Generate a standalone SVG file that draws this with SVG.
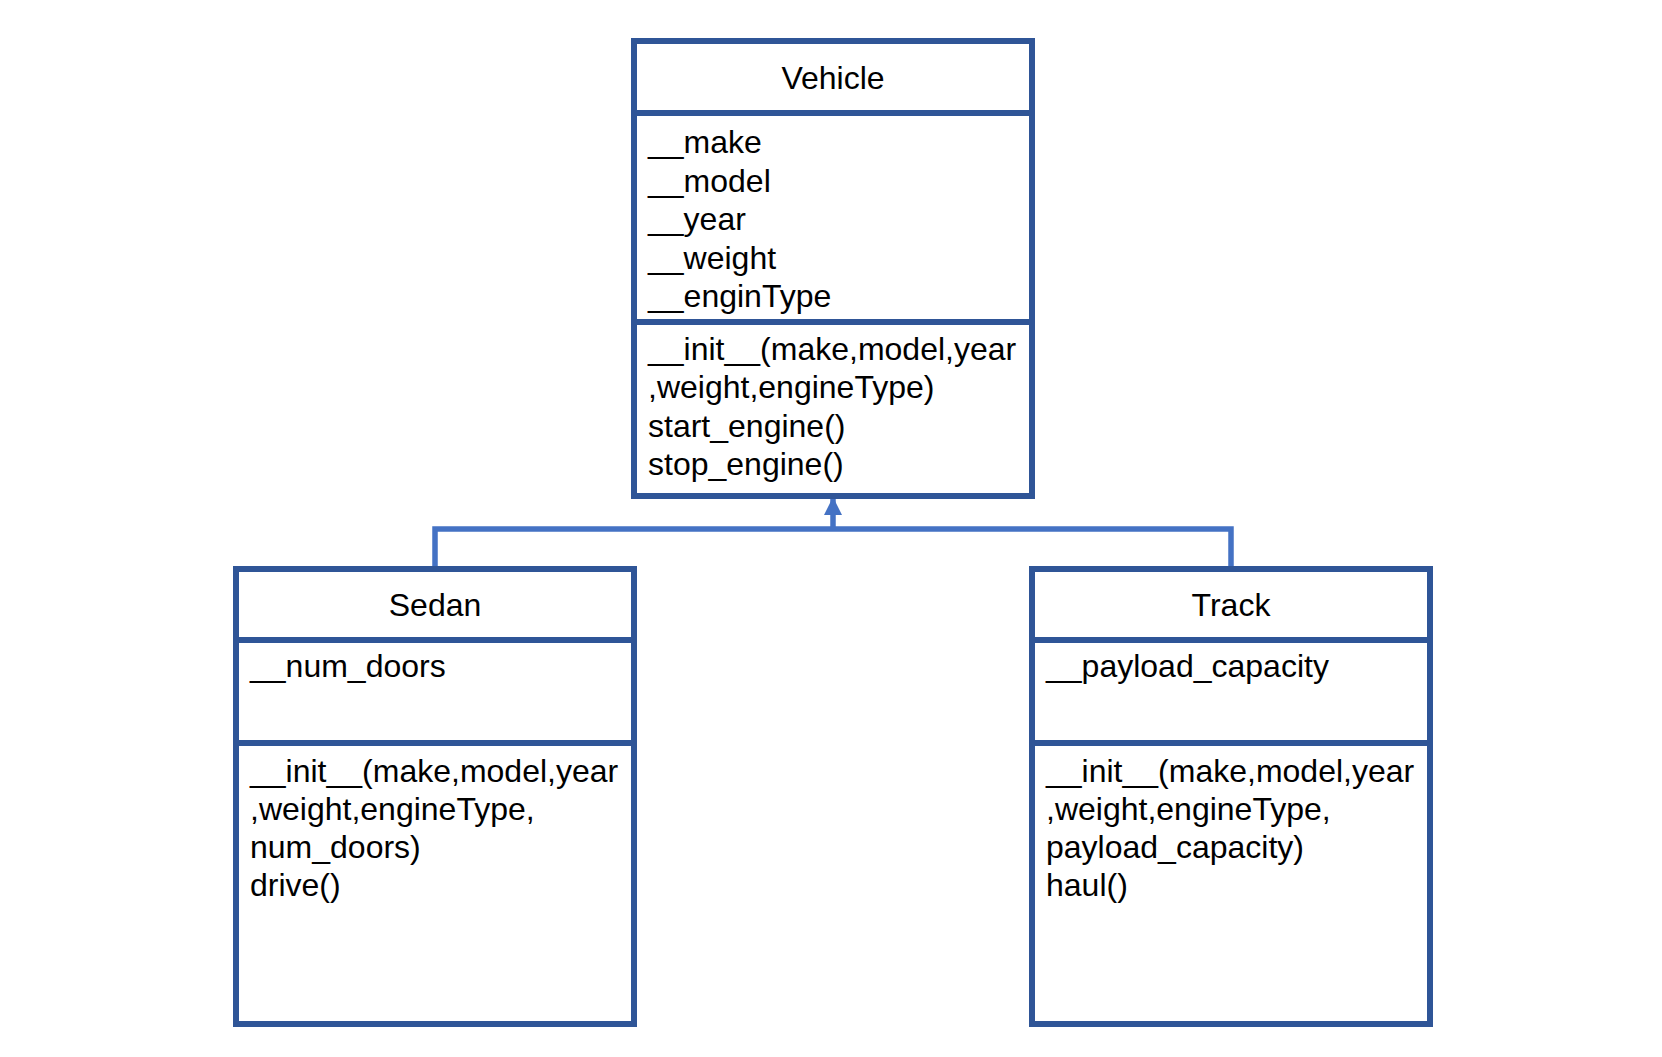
<svg xmlns="http://www.w3.org/2000/svg" width="1662" height="1057" viewBox="0 0 1662 1057">
<style>
.box{fill:#fff;stroke:#2F5597;stroke-width:6}
.div{stroke:#2F5597;stroke-width:6}
.t{font-family:"Liberation Sans",Arial,sans-serif;font-size:32px;fill:#000}
.c{text-anchor:middle}
.conn{fill:none;stroke:#4472C4;stroke-width:5.5}
</style>
<defs>
<marker id="arr" markerUnits="userSpaceOnUse" markerWidth="18" markerHeight="18" refX="18" refY="9" orient="auto">
<path d="M0,0 L18,9 L0,18 Z" fill="#4472C4"/>
</marker>
</defs>
<rect width="1662" height="1057" fill="#fff"/>
<g id="connectors">
<polyline class="conn" points="435,569 435,529 1231,529 1231,569"/>
<line class="conn" x1="833" y1="529" x2="833" y2="497" marker-end="url(#arr)"/>
</g>
<g id="vehicle">
<rect class="box" x="634" y="41" width="398" height="455"/>
<line class="div" x1="634" y1="113" x2="1032" y2="113"/>
<line class="div" x1="634" y1="322" x2="1032" y2="322"/>
<text class="t c" x="833" y="89">Vehicle</text>
<text class="t" x="648" y="153">__make</text>
<text class="t" x="648" y="191.5">__model</text>
<text class="t" x="648" y="230">__year</text>
<text class="t" x="648" y="268.5">__weight</text>
<text class="t" x="648" y="307">__enginType</text>
<text class="t" x="648" y="360">__init__(make,model,year</text>
<text class="t" x="648" y="398">,weight,engineType)</text>
<text class="t" x="648" y="436.5">start_engine()</text>
<text class="t" x="648" y="475">stop_engine()</text>
</g>
<g id="sedan">
<rect class="box" x="236" y="569" width="398" height="455"/>
<line class="div" x1="236" y1="640" x2="634" y2="640"/>
<line class="div" x1="236" y1="743" x2="634" y2="743"/>
<text class="t c" x="435" y="616">Sedan</text>
<text class="t" x="250" y="677">__num_doors</text>
<text class="t" x="250" y="782">__init__(make,model,year</text>
<text class="t" x="250" y="820">,weight,engineType,</text>
<text class="t" x="250" y="858">num_doors)</text>
<text class="t" x="250" y="896">drive()</text>
</g>
<g id="track">
<rect class="box" x="1032" y="569" width="398" height="455"/>
<line class="div" x1="1032" y1="640" x2="1430" y2="640"/>
<line class="div" x1="1032" y1="743" x2="1430" y2="743"/>
<text class="t c" x="1231" y="616">Track</text>
<text class="t" x="1046" y="677">__payload_capacity</text>
<text class="t" x="1046" y="782">__init__(make,model,year</text>
<text class="t" x="1046" y="820">,weight,engineType,</text>
<text class="t" x="1046" y="858">payload_capacity)</text>
<text class="t" x="1046" y="896">haul()</text>
</g>
</svg>
